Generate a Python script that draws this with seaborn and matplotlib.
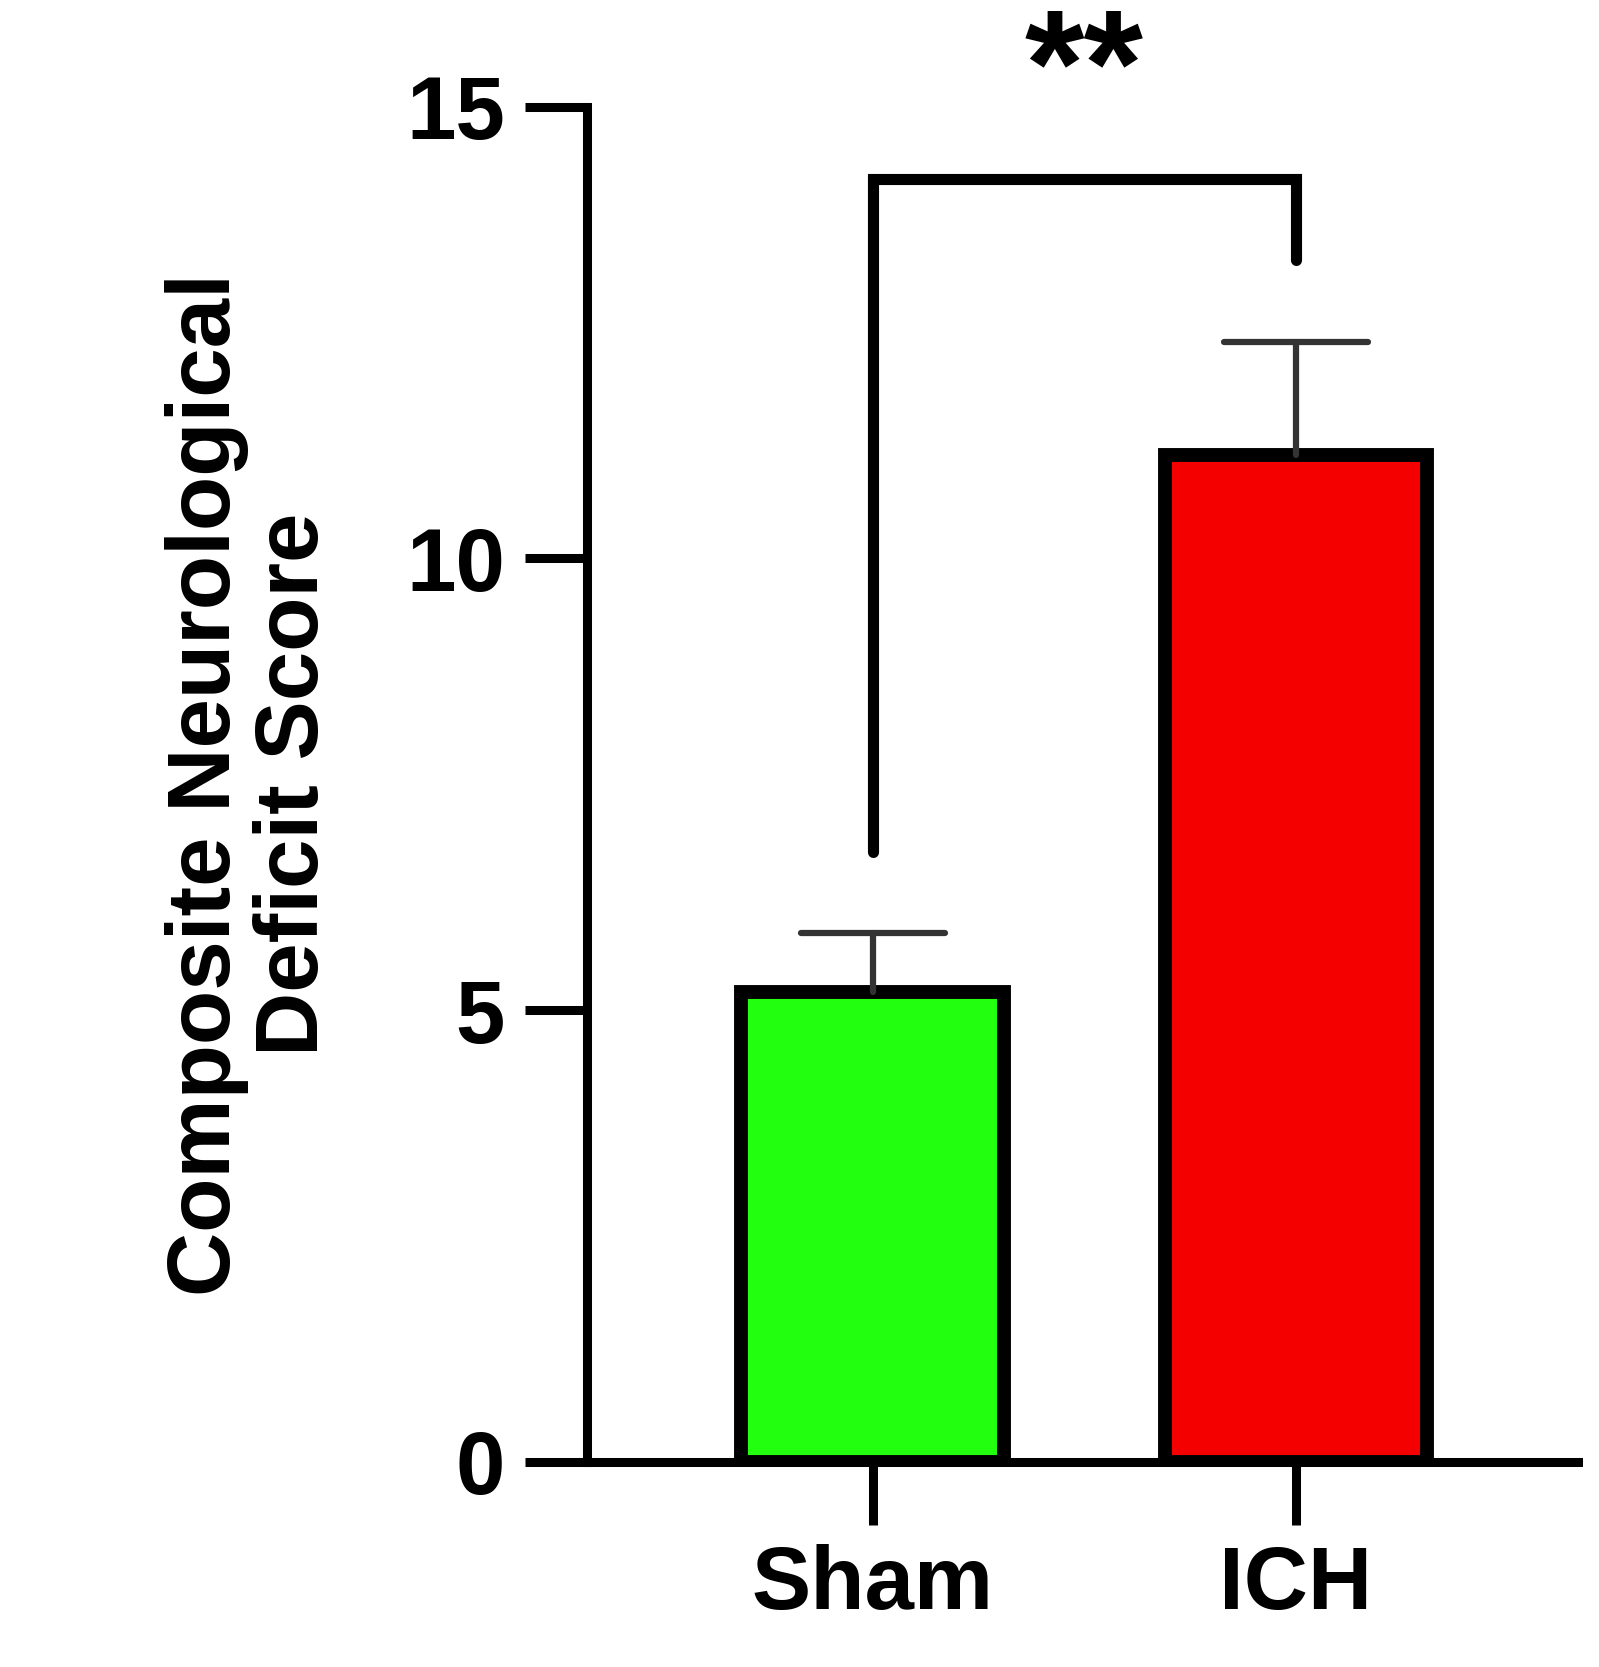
import matplotlib
matplotlib.use("Agg")
import matplotlib.pyplot as plt
import seaborn as sns
import pandas as pd

groups = ["Sham", "ICH"]
means = [5.2, 11.15]
sems = [0.65, 1.25]
colors = ["#22ff0f", "#f50000"]
bracket_y = 14.2
bracket_legs = [6.75, 13.3]
sig_label = "**"

sns.set_style("ticks")
plt.rcParams["font.family"] = ["Liberation Sans", "DejaVu Sans"]
plt.rcParams["font.weight"] = "bold"
plt.rcParams["text.color"] = "black"
plt.rcParams["axes.labelcolor"] = "black"
plt.rcParams["xtick.color"] = "black"
plt.rcParams["ytick.color"] = "black"
plt.rcParams["axes.edgecolor"] = "black"

df = pd.DataFrame({"group": groups, "score": means})

fig = plt.figure(figsize=(15.99, 16.67), dpi=100)
ax = fig.add_axes([0.367, 0.123, 0.62, 0.813])
sns.barplot(data=df, x="group", y="score", hue="group", palette=colors,
            saturation=1, width=0.62, edgecolor="black", linewidth=10,
            legend=False, ax=ax)
for i, (m, s) in enumerate(zip(means, sems)):
    ax.plot([i, i], [m, m + s], color="#333333", lw=4.5, zorder=1)
    ax.plot([i - 0.17, i + 0.17], [m + s, m + s], color="#333333", lw=4.5, zorder=1)

ax.plot([0, 0, 1, 1], [bracket_legs[0], bracket_y, bracket_y, bracket_legs[1]],
        color="black", lw=8, solid_capstyle="round", solid_joinstyle="miter")
ax.text(0.5, bracket_y + 0.35, sig_label, ha="center", va="bottom",
        fontsize=110, fontweight="bold")

ax.set_xlim(-0.675, 1.667)
ax.set_ylim(0, 15)
ax.set_yticks([0, 5, 10, 15])
ax.set_xlabel("")
ax.set_ylabel("Composite Neurological\nDeficit Score", fontsize=64,
              fontweight="bold", labelpad=50, linespacing=1.05)
ax.tick_params(axis="both", length=45, width=6.5, labelsize=64, pad=14)
for lab in ax.get_xticklabels() + ax.get_yticklabels():
    lab.set_fontweight("bold")
sns.despine(ax=ax)
for sp in ["left", "bottom"]:
    ax.spines[sp].set_linewidth(6.5)

fig.savefig("out.png", dpi=100)
